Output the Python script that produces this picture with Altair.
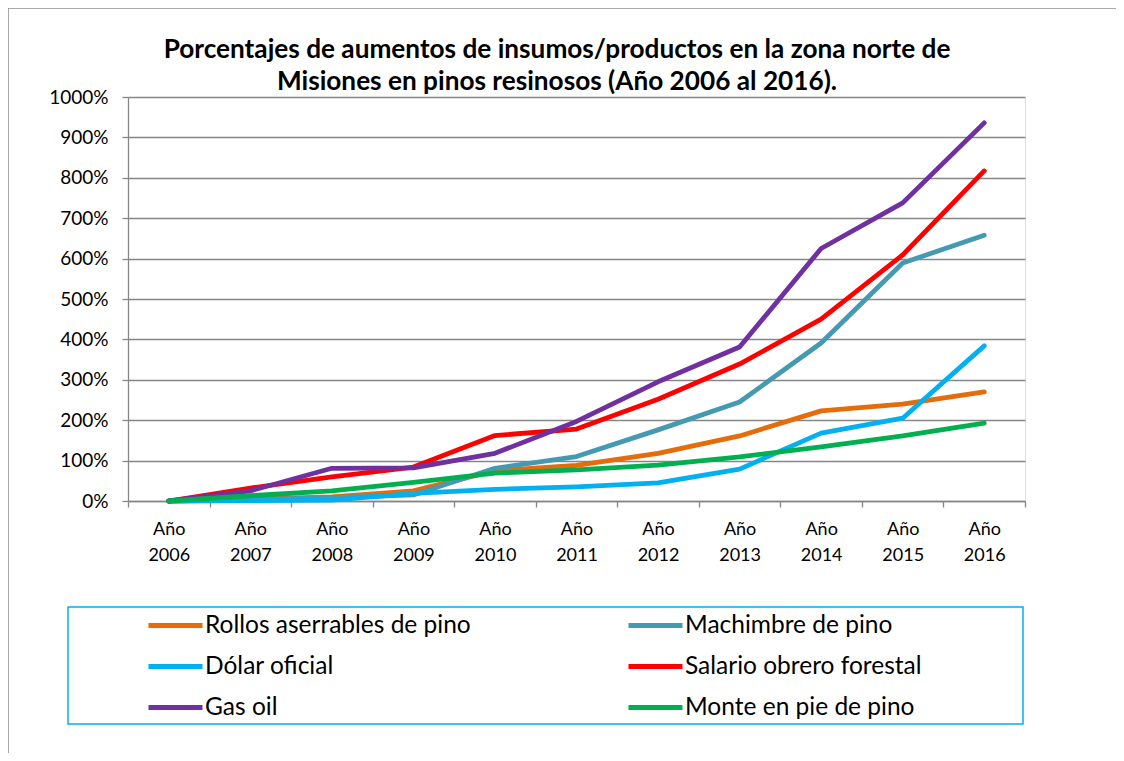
import altair as alt
import pandas as pd

years = ["2006", "2007", "2008", "2009", "2010", "2011", "2012", "2013", "2014", "2015", "2016"]
series_names = [
    "Rollos aserrables de pino",
    "Machimbre de pino",
    "Dólar oficial",
    "Salario obrero forestal",
    "Gas oil",
    "Monte en pie de pino",
]
colors = ["#E46C0A", "#4599B1", "#00B0F0", "#FF0000", "#7030A0", "#00B050"]

# percentages
rollos = [0, 5, 10, 25, 75, 88, 118, 161, 223, 240, 270]
machimbre = [0, 3, 8, 15, 81, 110, 176, 245, 391, 589, 658]
dolar = [0, 1, 2, 19, 29, 35, 45, 79, 168, 205, 384]
salario = [0, 32, 60, 84, 162, 178, 252, 339, 450, 609, 817]
gasoil = [0, 25, 81, 82, 118, 197, 295, 381, 625, 738, 936]
monte = [0, 13, 25, 46, 69, 77, 89, 109, 134, 161, 193]

y_ticks = [0, 1, 2, 3, 4, 5, 6, 7, 8, 9, 10]

title_lines = [
    "Porcentajes de aumentos de insumos/productos en la zona norte de",
    "Misiones en pinos resinosos (Año 2006 al 2016).",
]

rows = []
for name, vals in zip(series_names, [rollos, machimbre, dolar, salario, gasoil, monte]):
    for yr, v in zip(years, vals):
        rows.append({"year": yr, "serie": name, "valor": v / 100})
df = pd.DataFrame(rows)

# legend is filled column by column: reorder so it reads row by row
legend_order = [0, 2, 4, 1, 3, 5]
legend_domain = [series_names[i] for i in legend_order]
legend_range = [colors[i] for i in legend_order]

FONT = "Lato"
GRAY = "#868686"

lines = alt.Chart(df).mark_line(strokeWidth=4.8, strokeCap="round", strokeJoin="round").encode(
    x=alt.X(
        "year:N",
        title=None,
        bandPosition=0.5,
        scale=alt.Scale(type="band", domain=years, paddingInner=0, paddingOuter=0),
        axis=alt.Axis(
            labelExpr="datum.label == '' ? '' : ['Año', datum.label]",
            labelAngle=0,
            tickBand="extent",
            tickSize=6,
            labelPadding=13,
            labelBaseline="top",
            labelLineHeight=26,
            labelFontSize=18,
            labelFont=FONT,
            labelColor="#000000",
            domainColor=GRAY,
            tickColor=GRAY,
            domainWidth=1.3,
            tickWidth=1.3,
            grid=False,
        ),
    ),
    y=alt.Y(
        "valor:Q",
        title=None,
        scale=alt.Scale(domain=[0, 10], nice=False),
        axis=alt.Axis(
            format=".0%",
            values=y_ticks,
            tickSize=6,
            labelPadding=14,
            labelFontSize=19,
            labelFont=FONT,
            labelColor="#000000",
            domainColor=GRAY,
            tickColor=GRAY,
            gridColor=GRAY,
            gridWidth=1.3,
            domainWidth=1.3,
            tickWidth=1.3,
            grid=True,
        ),
    ),
    color=alt.Color(
        "serie:N",
        scale=alt.Scale(domain=legend_domain, range=legend_range),
        legend=alt.Legend(
            title=None,
            orient="none",
            legendX=18,
            legendY=499,
            columns=2,
            symbolType="stroke",
            symbolSize=2916,
            symbolStrokeWidth=5,
            labelFontSize=24.5,
            labelFont=FONT,
            labelColor="#000000",
            labelOffset=0,
            labelLimit=0,
            columnPadding=147,
            rowPadding=-15.5,
            padding=0,
        ),
    ),
)

one = pd.DataFrame({"k": [0]})

legend_box = alt.Chart(one).mark_rect(fill=None, stroke="#00B0F0", strokeWidth=1.5).encode(
    x=alt.value(-60), x2=alt.value(895), y=alt.value(510), y2=alt.value(627)
)

frame_top = alt.Chart(one).mark_rule(stroke="#8C8C8C", strokeWidth=1.5).encode(
    x=alt.value(-120), x2=alt.value(1100), y=alt.value(-89)
)
frame_left = alt.Chart(one).mark_rule(stroke="#8C8C8C", strokeWidth=1.5).encode(
    x=alt.value(-120), y=alt.value(-89), y2=alt.value(800)
)

chart = alt.layer(frame_top, frame_left, legend_box, lines).properties(
    width=897,
    height=404,
    padding={"left": 120, "top": 89, "right": 91, "bottom": 252},
    autosize=alt.AutoSizeParams(type="none"),
    title=alt.TitleParams(
        text=title_lines,
        anchor="middle",
        frame="group",
        font=FONT,
        fontSize=26.2,
        fontWeight="bold",
        color="#000000",
        lineHeight=32,
        dx=-19.5,
        offset=-88,
    ),
).configure_view(stroke=None).configure(font=FONT)

chart.save("out.html", embed_options={"renderer": "svg", "actions": False})
